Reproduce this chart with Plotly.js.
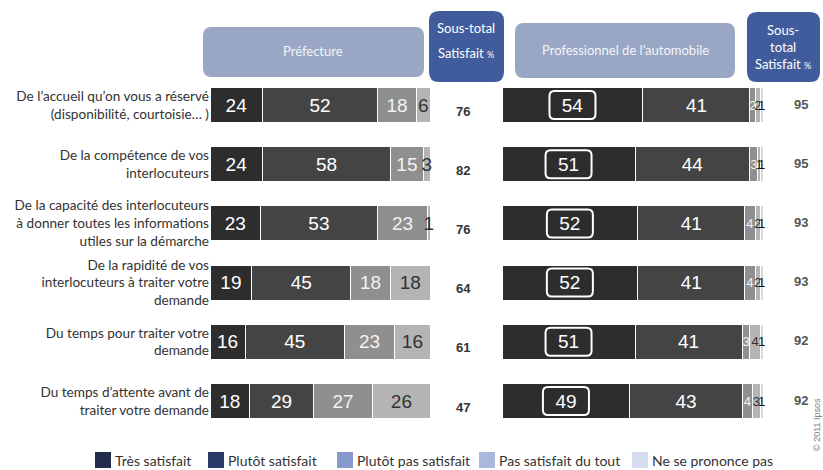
<!DOCTYPE html>
<html>
<head>
<meta charset="utf-8">
<script src="https://cdn.plot.ly/plotly-3.0.1.min.js"></script>
<style>html,body{margin:0;padding:0;background:#fff;}#chart{width:823px;height:470px;}</style>
</head>
<body>
<div id="chart"></div>
<script>
// ---------- data ----------
const categories = [
  "De l’accueil qu’on vous a réservé<br>(disponibilité, courtoisie… )",
  "De la compétence de vos<br>interlocuteurs",
  "De la capacité des interlocuteurs<br>à donner toutes les informations<br>utiles sur la démarche",
  "De la rapidité de vos<br>interlocuteurs à traiter votre<br>demande",
  "Du temps pour traiter votre<br>demande",
  "Du temps d’attente avant de<br>traiter votre demande"
];
const seriesNames = ["Très satisfait", "Plutôt satisfait", "Plutôt pas satisfait", "Pas satisfait du tout", "Ne se prononce pas"];

const prefTres       = [24, 24, 23, 19, 16, 18];
const prefPlutot     = [52, 58, 53, 45, 45, 29];
const prefPlutotPas  = [18, 15, 23, 18, 23, 27];
const prefPasDuTout  = [6, 3, 1, 18, 16, 26];
const prefNSP        = [0, 0, 0, 0, 0, 0];
const prefSubtotal   = [76, 82, 76, 64, 61, 47];

const proTres        = [54, 51, 52, 52, 51, 49];
const proPlutot      = [41, 44, 41, 41, 41, 43];
const proPlutotPas   = [2, 3, 4, 4, 3, 4];
const proPasDuTout   = [2, 1, 2, 2, 4, 3];
const proNSP         = [1, 1, 1, 1, 1, 1];
const proSubtotal    = [95, 95, 93, 93, 92, 92];

const headerLeft = "Préfecture";
const headerRight = "Professionnel de l’automobile";

// ---------- styles ----------
const W = 823, H = 470;
const barColors = ["#2d2d2d", "#444444", "#8f8f8f", "#b4b4b4", "#d9d9d9"];
const textColors = ["#ffffff", "#ffffff", "#f2f2f2", "#333333", "#111111"];
const legendColors = ["#212c4b", "#2b3b68", "#8899cc", "#abb7dd", "#d5dcef"];
const legendSquareX = [95, 208, 337, 479, 632];
const rowIdx = categories.map((_, i) => i);

const prefSeries = [prefTres, prefPlutot, prefPlutotPas, prefPasDuTout, prefNSP];
const proSeries = [proTres, proPlutot, proPlutotPas, proPasDuTout, proNSP];

const traces = [];
function addBars(series, xa, small) {
  series.forEach((vals, k) => {
    traces.push({
      type: "bar", orientation: "h",
      x: vals, y: rowIdx, xaxis: xa, yaxis: "y",
      name: seriesNames[k], showlegend: false,
      marker: {color: barColors[k], line: {color: "#ffffff", width: 1}},
      text: vals.map(v => v ? String(v) : ""),
      texttemplate: "%{text}",
      textposition: "inside", insidetextanchor: "middle",
      constraintext: "none", textangle: 0, cliponaxis: false,
      textfont: {family: "Liberation Sans, Arial, sans-serif",
                 color: textColors[k],
                 size: vals.map(v => (small && v < 10) ? 13 : 19)},
      hoverinfo: "skip"
    });
  });
}
addBars(prefSeries, "x", false);
addBars(proSeries, "x2", true);

// helpers for pixel -> paper
const px = x => x / W;
const py = y => 1 - y / H;
function roundRect(x0, y0, x1, y1, r) {
  return `M${px(x0 + r)},${py(y0)} L${px(x1 - r)},${py(y0)} Q${px(x1)},${py(y0)} ${px(x1)},${py(y0 + r)}` +
         ` L${px(x1)},${py(y1 - r)} Q${px(x1)},${py(y1)} ${px(x1 - r)},${py(y1)}` +
         ` L${px(x0 + r)},${py(y1)} Q${px(x0)},${py(y1)} ${px(x0)},${py(y1 - r)}` +
         ` L${px(x0)},${py(y0 + r)} Q${px(x0)},${py(y0)} ${px(x0 + r)},${py(y0)} Z`;
}

const shapes = [
  {type: "path", xref: "paper", yref: "paper", path: roundRect(203, 27, 424, 77, 9), fillcolor: "#99a7c4", line: {width: 0}},
  {type: "path", xref: "paper", yref: "paper", path: roundRect(429, 11, 504, 82, 10), fillcolor: "#415c9c", line: {width: 0}},
  {type: "path", xref: "paper", yref: "paper", path: roundRect(515, 23, 735, 78, 9), fillcolor: "#99a7c4", line: {width: 0}},
  {type: "path", xref: "paper", yref: "paper", path: roundRect(747, 12, 820, 82, 10), fillcolor: "#415c9c", line: {width: 0}}
];
// rounded boxes around the first value of the right chart
const bw = 23, bh = 14, br = 5;
const boxPath = `M${-bw + br},${-bh} L${bw - br},${-bh} Q${bw},${-bh} ${bw},${-bh + br} L${bw},${bh - br} Q${bw},${bh} ${bw - br},${bh}` +
                ` L${-bw + br},${bh} Q${-bw},${bh} ${-bw},${bh - br} L${-bw},${-bh + br} Q${-bw},${-bh} ${-bw + br},${-bh} Z`;
proTres.forEach((v, i) => {
  shapes.push({type: "path", xref: "x2", yref: "y", xsizemode: "pixel", ysizemode: "pixel",
    xanchor: v / 2, yanchor: i, path: boxPath, line: {color: "#ffffff", width: 2}, fillcolor: "rgba(0,0,0,0)"});
});

const hdrFont = {family: "Lato, sans-serif", size: 13, color: "#f4f4f8"};
const C = {showarrow: false, xanchor: "center", yanchor: "middle"};
const annotations = [
  {...C, xref: "paper", yref: "paper", x: px(313), y: py(51), text: headerLeft, font: hdrFont},
  {...C, xref: "paper", yref: "paper", x: px(466), y: py(28), text: "Sous-total", font: {...hdrFont, color: "#ffffff"}},
  {...C, xref: "paper", yref: "paper", x: px(466), y: py(53), text: "Satisfait <span style='font-size:9px'>%</span>", font: {...hdrFont, color: "#ffffff"}},
  {...C, xref: "paper", yref: "paper", x: px(625), y: py(50), text: headerRight, font: hdrFont},
  {...C, xref: "paper", yref: "paper", x: px(783), y: py(47), text: "Sous-<br>total<br>Satisfait <span style='font-size:9px'>%</span>", font: {...hdrFont, color: "#ffffff"}},
  {...C, xref: "paper", yref: "paper", x: px(817), y: py(425), text: "© 2011 Ipsos", textangle: -90,
   font: {family: "Liberation Sans, Arial, sans-serif", size: 9, color: "#808080"}}
];
prefSubtotal.forEach((v, i) => annotations.push({...C, xref: "paper", yref: "y", x: px(463), y: i, yshift: -6, text: "<b>" + v + "</b>",
  font: {family: "Liberation Sans, Arial, sans-serif", size: 13, color: "#333333"}}));
proSubtotal.forEach((v, i) => annotations.push({...C, xref: "paper", yref: "y", x: px(801), y: i, yshift: 1, text: "<b>" + v + "</b>",
  font: {family: "Liberation Sans, Arial, sans-serif", size: 13, color: "#555555"}}));

// legend (drawn as squares + text, legend colours differ from bar colours as in the original)
seriesNames.forEach((n, k) => {
  const x0 = legendSquareX[k];
  shapes.push({type: "rect", xref: "paper", yref: "paper", x0: px(x0), x1: px(x0 + 16), y0: py(468), y1: py(452),
    fillcolor: legendColors[k], line: {width: 0}});
  annotations.push({showarrow: false, xanchor: "left", yanchor: "middle", xref: "paper", yref: "paper",
    x: px(x0 + 18), y: py(460.5), text: n, font: {family: "Lato, sans-serif", size: 14, color: "#333333"}});
});

const layout = {
  width: W, height: H,
  margin: {l: 0, r: 0, t: 0, b: 0},
  paper_bgcolor: "#ffffff", plot_bgcolor: "rgba(0,0,0,0)",
  barmode: "stack", bargap: 0.41,
  showlegend: false,
  xaxis: {domain: [px(210), px(430)], range: [0, 100], showgrid: false, zeroline: false, showticklabels: false, showline: false, fixedrange: true},
  xaxis2: {domain: [px(502), px(763)], range: [0, 100], anchor: "y", showgrid: false, zeroline: false, showticklabels: false, showline: false, fixedrange: true},
  yaxis: {domain: [1 - 430.6 / H, 1 - 75.4 / H], range: [5.5, -0.5], tickvals: rowIdx, ticktext: categories,
    showgrid: false, zeroline: false, showline: false, ticks: "", anchor: "x",
    tickfont: {family: "Lato, sans-serif", size: 13.6, color: "#333333"}},
  shapes: shapes,
  annotations: annotations
};

Plotly.newPlot("chart", traces, layout, {displayModeBar: false, staticPlot: true});
</script>
</body>
</html>
